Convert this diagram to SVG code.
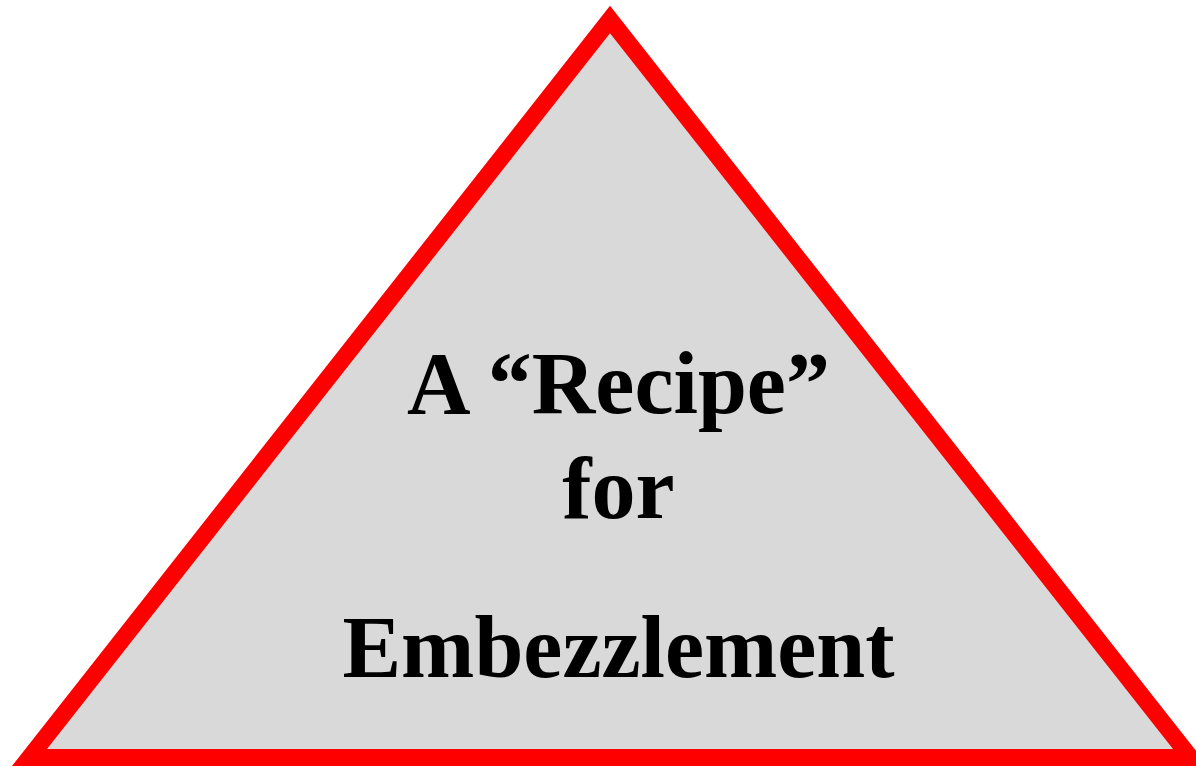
<svg xmlns="http://www.w3.org/2000/svg" width="1196" height="767" viewBox="0 0 1196 767">
<style>
.t{font-family:"Liberation Serif","Times New Roman",serif;font-weight:bold;font-size:88px;fill:#000;text-anchor:middle}
</style>
<rect width="1196" height="767" fill="#fff"/>
<g id="triangle">
<polygon points="610,19.5 1190.5,757.5 29.5,757.5" fill="#d9d9d9" stroke="#ff0000" stroke-width="17" stroke-linejoin="miter" stroke-miterlimit="10"/>
<text class="t" x="618.5" y="413">A “Recipe”</text>
<text class="t" x="618.5" y="518">for</text>
<text class="t" x="618.5" y="677">Embezzlement</text>
</g>
</svg>
